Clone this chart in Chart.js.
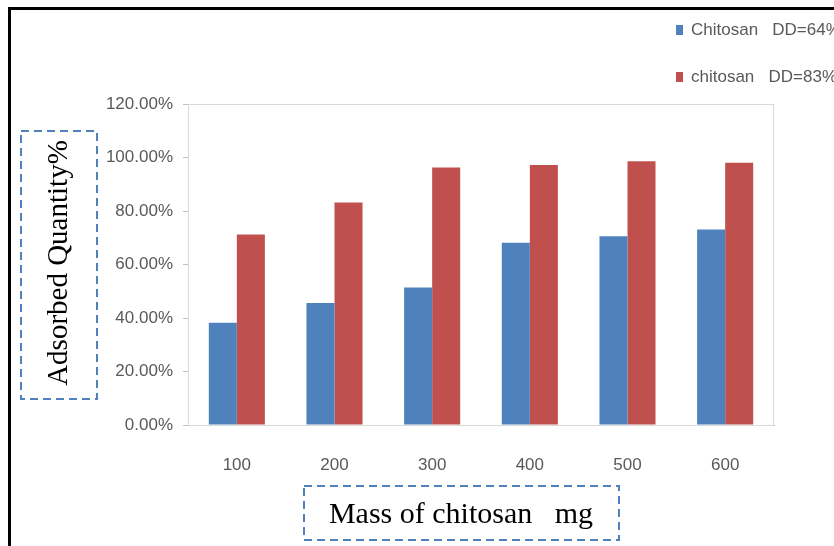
<!DOCTYPE html>
<html>
<head>
<meta charset="utf-8">
<script src="https://cdn.jsdelivr.net/npm/chart.js@4.4.1/dist/chart.umd.min.js"></script>
<style>
  html, body { margin: 0; padding: 0; background: #fff; }
  body { width: 834px; height: 546px; overflow: hidden; position: relative; }
  #frame { position: absolute; left: 8px; top: 7px; right: -10px; bottom: -10px;
           border-left: 3px solid #000; border-top: 3px solid #000; }
  #wrap { position: absolute; left: 0; top: 0; width: 834px; height: 546px; }
  #legend { position: absolute; left: 676px; top: 0; white-space: pre;
            font: 17px "Liberation Sans", Arial, sans-serif; color: #595959; }
  #legend .item { position: absolute; left: 0; display: flex; align-items: center; height: 20px; }
  #legend .swatch { width: 7px; height: 10px; margin-right: 8px; flex: none; }
  svg.box { position: absolute; overflow: visible; }
  svg.box text { font-family: "Liberation Serif", "Times New Roman", serif; fill: #000; }
</style>
</head>
<body>
<div id="frame"></div>
<div id="wrap"><canvas id="chart"></canvas></div>
<div id="legend"></div>

<!-- axis titles in dashed boxes -->
<svg class="box" style="left:20px; top:130px" width="78" height="270">
  <rect x="1" y="1" width="76" height="268" fill="none" stroke="#4f81bd" stroke-width="2" stroke-dasharray="8 5"/>
  <text font-size="29" text-anchor="middle" transform="translate(47,133) rotate(-90)">Adsorbed Quantity%</text>
</svg>
<svg class="box" style="left:303px; top:485px" width="317" height="56">
  <rect x="1" y="1" width="315" height="54" fill="none" stroke="#4f81bd" stroke-width="2" stroke-dasharray="8 5"/>
  <text font-size="30" text-anchor="middle" x="158" y="38" xml:space="preserve">Mass of chitosan   mg</text>
</svg>

<script>
  // chitosan mass (mg)
  const categories = ['100', '200', '300', '400', '500', '600'];
  // adsorbed quantity, percent
  const dd64 = [38.2, 45.6, 51.4, 68.1, 70.6, 73.1];
  const dd83 = [71.2, 83.2, 96.3, 97.2, 98.6, 98.0];
  const seriesNames = ['Chitosan   DD=64%', 'chitosan   DD=83%'];
  const seriesColors = ['#4f81bd', '#c0504d'];
  const yMin = 0, yMax = 120, yStep = 20;

  Chart.defaults.font.family = '"Liberation Sans", Arial, sans-serif';
  Chart.defaults.font.size = 17;
  Chart.defaults.color = '#595959';

  // light frame round the plot area
  const plotFrame = {
    id: 'plotFrame',
    beforeDatasetsDraw(chart) {
      const a = chart.chartArea, ctx = chart.ctx;
      ctx.save();
      ctx.strokeStyle = '#d9d9d9';
      ctx.lineWidth = 1;
      ctx.strokeRect(a.left + 0.5, a.top + 0.5, a.right - a.left - 1, a.bottom - a.top);
      ctx.restore();
    }
  };

  const chart = new Chart(document.getElementById('chart'), {
    type: 'bar',
    data: {
      labels: categories,
      datasets: [
        { label: seriesNames[0], data: dd64, backgroundColor: seriesColors[0] },
        { label: seriesNames[1], data: dd83, backgroundColor: seriesColors[1] }
      ]
    },
    options: {
      responsive: true,
      maintainAspectRatio: false,
      animation: false,
      datasets: { bar: { categoryPercentage: 0.574, barPercentage: 1.0 } },
      layout: { padding: { left: 88, top: 104, right: 60, bottom: 0 } },
      plugins: { legend: { display: false }, tooltip: { enabled: false } },
      scales: {
        x: {
          grid: { display: false, drawTicks: false },
          border: { color: '#bfbfbf' },
          ticks: { padding: 30 },
          afterFit: s => { s.height = 121; }
        },
        y: {
          min: yMin, max: yMax,
          grid: { drawOnChartArea: false, tickLength: 5, color: '#bfbfbf' },
          border: { color: '#bfbfbf' },
          ticks: { stepSize: yStep, padding: 10, callback: v => v.toFixed(2) + '%' },
          afterFit: s => { s.width = 100; }
        }
      }
    },
    plugins: [plotFrame]
  });

  // legend built from the datasets
  const legend = document.getElementById('legend');
  chart.data.datasets.forEach((ds, i) => {
    const item = document.createElement('div');
    item.className = 'item';
    item.style.top = (20 + i * 47) + 'px';
    const sw = document.createElement('span');
    sw.className = 'swatch';
    sw.style.background = ds.backgroundColor;
    const txt = document.createElement('span');
    txt.textContent = ds.label;
    item.appendChild(sw);
    item.appendChild(txt);
    legend.appendChild(item);
  });
</script>
</body>
</html>
